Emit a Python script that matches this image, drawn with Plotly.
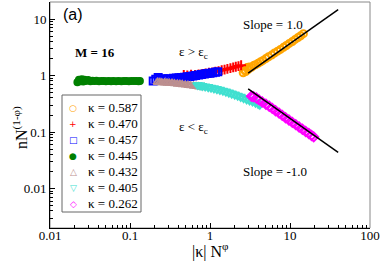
import plotly.graph_objects as go

# ---- data ----
k587_x = [2.6, 2.7, 2.8, 2.9, 3.0, 3.1, 3.3, 3.5, 3.7, 4.0, 4.3, 4.6, 5.0, 5.4, 5.9, 6.4, 7.0, 7.6, 8.3, 9.0, 9.8, 10.7, 11.6, 12.6, 13.6, 14.7]
k587_y = [1.12, 1.25, 1.18, 1.38, 1.28, 1.42, 1.40, 1.50, 1.55, 1.65, 1.75, 1.85, 2.0, 2.15, 2.3, 2.5, 2.7, 2.9, 3.15, 3.4, 3.7, 4.0, 4.35, 4.7, 5.05, 5.5]

k470_x = [0.47, 0.52, 0.58, 0.65, 0.72, 0.80, 0.88, 0.97, 1.07, 1.17, 1.28, 1.40, 1.52, 1.65, 1.80, 1.95, 2.10, 2.27, 2.45]
k470_y = [1.02, 1.00, 1.04, 1.02, 1.05, 1.07, 1.09, 1.12, 1.14, 1.17, 1.20, 1.24, 1.27, 1.31, 1.35, 1.39, 1.43, 1.47, 1.52]

k457_x = [0.195, 0.21, 0.225, 0.24, 0.26, 0.28, 0.30, 0.325, 0.35, 0.38, 0.41, 0.44, 0.48, 0.52, 0.56, 0.61, 0.66, 0.72, 0.78, 0.85, 0.92, 1.0, 1.08, 1.17, 1.25]
k457_y = [0.80, 0.86, 0.92, 0.84, 0.88, 0.86, 0.88, 0.87, 0.89, 0.90, 0.91, 0.92, 0.93, 0.95, 0.96, 0.98, 1.0, 1.02, 1.04, 1.06, 1.08, 1.10, 1.12, 1.14, 1.16]

k445_x = [0.022, 0.023, 0.024, 0.025, 0.026, 0.027, 0.028, 0.030, 0.032, 0.034, 0.036, 0.038, 0.041, 0.044, 0.047, 0.050, 0.054, 0.058, 0.062, 0.067, 0.072, 0.078, 0.084, 0.090, 0.097, 0.104, 0.112, 0.120, 0.128, 0.133]
k445_y = [0.76, 0.84, 0.79, 0.86, 0.78, 0.84, 0.80, 0.83, 0.79, 0.81, 0.80, 0.81, 0.79, 0.80, 0.80, 0.79, 0.80, 0.79, 0.80, 0.79, 0.80, 0.79, 0.80, 0.80, 0.79, 0.80, 0.80, 0.80, 0.79, 0.80]

k432_x = [0.22, 0.235, 0.25, 0.27, 0.29, 0.31, 0.335, 0.36, 0.39, 0.42, 0.45, 0.49, 0.53, 0.57, 0.62, 0.67, 0.72, 0.78, 0.85]
k432_y = [0.76, 0.755, 0.75, 0.745, 0.74, 0.735, 0.73, 0.72, 0.71, 0.705, 0.695, 0.685, 0.675, 0.665, 0.655, 0.645, 0.635, 0.625, 0.615]

k405_x = [0.70, 0.75, 0.80, 0.87, 0.95, 1.03, 1.12, 1.22, 1.33, 1.45, 1.58, 1.72, 1.87, 2.04, 2.22, 2.42, 2.63, 2.87, 3.12, 3.40, 3.70, 4.00, 4.20]
k405_y = [0.68, 0.67, 0.655, 0.64, 0.625, 0.61, 0.595, 0.575, 0.558, 0.54, 0.52, 0.50, 0.48, 0.46, 0.44, 0.42, 0.40, 0.38, 0.365, 0.348, 0.33, 0.315, 0.305]

k262_x = [3.3, 3.5, 3.8, 4.1, 4.5, 5.0, 5.5, 6.0, 6.6, 7.3, 8.0, 8.8, 9.7, 10.7, 11.8, 13.0, 14.3, 15.7, 17.2, 18.6, 19.8]
k262_y = [0.43, 0.42, 0.40, 0.37, 0.34, 0.31, 0.285, 0.262, 0.238, 0.216, 0.197, 0.179, 0.163, 0.148, 0.135, 0.123, 0.112, 0.102, 0.094, 0.087, 0.082]

slope_p1_x = [3.0, 40.0]
slope_p1_y = [1.1, 14.7]
slope_m1_x = [3.0, 40.0]
slope_m1_y = [0.58, 0.0435]

x_major_ticks = [0.01, 0.1, 1, 10, 100]
x_major_labels = ["0.01", "0.1", "1", "10", "100"]
y_major_ticks = [0.01, 0.1, 1, 10]
y_major_labels = ["0.01", "0.1", "1", "10"]
minor_steps = [2, 3, 4, 5, 6, 7, 8, 9]
x_minor_ticks = [m * d for d in [0.01, 0.1, 1, 10] for m in minor_steps]
y_minor_ticks = [m * d for d in [0.001, 0.01, 0.1, 1, 10] for m in minor_steps]

# name, x, y, marker symbol, colour, marker size, legend glyph
series = [
    ("κ = 0.587", k587_x, k587_y, "circle-open", "#FFA500", 7, "○"),
    ("κ = 0.470", k470_x, k470_y, "cross-thin-open", "#FF0000", 7, "+"),
    ("κ = 0.457", k457_x, k457_y, "square-open", "#0000FF", 7, "□"),
    ("κ = 0.445", k445_x, k445_y, "circle", "#008000", 6, "●"),
    ("κ = 0.432", k432_x, k432_y, "triangle-up-open", "#BC8F8F", 7, "△"),
    ("κ = 0.405", k405_x, k405_y, "triangle-down-open", "#40E0D0", 8, "▽"),
    ("κ = 0.262", k262_x, k262_y, "diamond-open", "#FF00FF", 7, "◇"),
]

SERIF = "Liberation Serif"

# plot-area geometry helpers (pixels -> paper), layout only
L, R, T, B, W, H = 50, 12, 2, 37, 382, 265
PW, PH = W - L - R, H - T - B
def px(xp):
    return (xp - L) / PW
def py(yp):
    return (H - B - yp) / PH

fig = go.Figure()
for name, xs, ys, sym, col, sz, _g in series:
    fig.add_trace(go.Scatter(
        x=xs, y=ys, mode="markers", name=name, showlegend=False,
        marker=dict(symbol=sym, color=col, size=sz, line=dict(color=col, width=2)),
    ))

for xs, ys in [(slope_p1_x, slope_p1_y), (slope_m1_x, slope_m1_y)]:
    fig.add_trace(go.Scatter(x=xs, y=ys, mode="lines", showlegend=False,
                             line=dict(color="black", width=1.5)))

def axis(tv, tt, mv, rng, standoff):
    return dict(
        type="log", range=rng, showgrid=False, zeroline=False,
        showline=True, linecolor="black", linewidth=1, mirror=False,
        tickmode="array", tickvals=tv, ticktext=tt,
        ticks="inside", ticklen=5, tickcolor="black",
        minor=dict(tickmode="array", tickvals=mv, ticks="inside", ticklen=3,
                   tickcolor="black", showgrid=False),
        tickfont=dict(family=SERIF, size=13, color="black"),
        ticklabelstandoff=standoff,
    )

fig.update_layout(
    width=W, height=H,
    margin=dict(l=L, r=R, t=T, b=B),
    paper_bgcolor="white", plot_bgcolor="white",
    xaxis=axis(x_major_ticks, x_major_labels, x_minor_ticks, [-2, 2], -5),
    yaxis=axis(y_major_ticks, y_major_labels, y_minor_ticks, [-2.699, 1.301], 0),
    showlegend=False,
)

# frame
fig.add_shape(type="rect", xref="paper", yref="paper", x0=0, y0=0, x1=1, y1=1,
              line=dict(color="#888888", width=1), layer="below")

# legend box (built from the series names)
fig.add_shape(type="rect", xref="paper", yref="paper",
              x0=px(62), x1=px(141), y0=py(212), y1=py(95),
              line=dict(color="#666666", width=1), fillcolor="white", layer="above")
row0, row_step = 107.5, 16.0
for i, (name, _x, _y, _s, col, _sz, glyph) in enumerate(series):
    yy = py(row0 + i * row_step)
    fig.add_annotation(xref="paper", yref="paper", x=px(73), y=yy, text=glyph,
                       showarrow=False, xanchor="center", yanchor="middle",
                       font=dict(family="DejaVu Sans", size=9, color=col))
    fig.add_annotation(xref="paper", yref="paper", x=px(86), y=yy, text=name,
                       showarrow=False, xanchor="left", yanchor="middle",
                       font=dict(family=SERIF, size=13, color="black"))

ann = [
    dict(text="(a)", x=px(60.5), y=py(15), xanchor="left", font=dict(family="Liberation Sans", size=16)),
    dict(text="<b>M = 16</b>", x=px(72.5), y=py(52.5), xanchor="left", font=dict(family=SERIF, size=13)),
    dict(text="ε > ε<sub>c</sub>", x=px(177), y=py(52), xanchor="left", font=dict(family=SERIF, size=13)),
    dict(text="ε < ε<sub>c</sub>", x=px(176.5), y=py(127), xanchor="left", font=dict(family=SERIF, size=13)),
    dict(text="Slope = 1.0", x=px(240.5), y=py(24), xanchor="left", font=dict(family=SERIF, size=13)),
    dict(text="Slope = -1.0", x=px(240.5), y=py(171.5), xanchor="left", font=dict(family=SERIF, size=13)),
]
for a in ann:
    a["font"]["color"] = "black"
    fig.add_annotation(xref="paper", yref="paper", showarrow=False, yanchor="middle", **a)

fig.add_annotation(xref="paper", yref="paper", x=px(210), y=py(263), showarrow=False,
                   xanchor="center", yanchor="bottom", text="|κ| N<sup>φ</sup>",
                   font=dict(family=SERIF, size=16, color="black"))
fig.add_annotation(xref="paper", yref="paper", x=px(20), y=py(128), showarrow=False,
                   xanchor="center", yanchor="middle", textangle=-90, text="nN<sup>(1-φ)</sup>",
                   font=dict(family=SERIF, size=16, color="black"))

fig.write_html("out.html", config={"displayModeBar": False},
               post_script="document.body.style.margin='0';document.body.style.overflow='hidden';")
